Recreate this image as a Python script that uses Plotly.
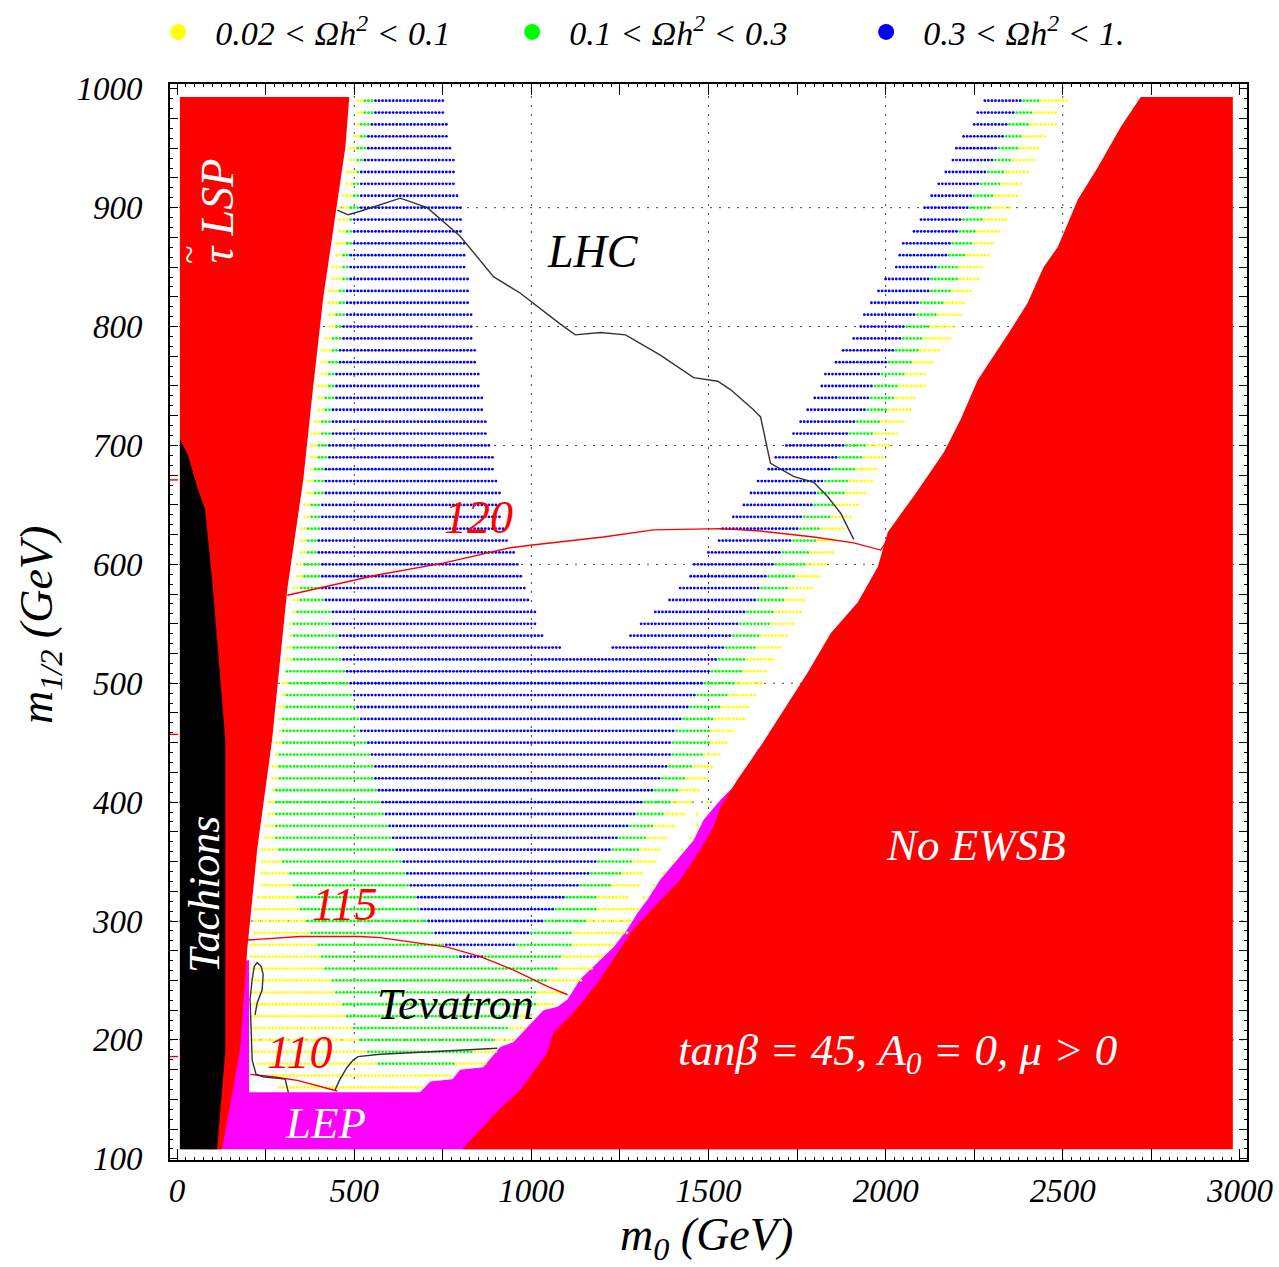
import plotly.graph_objects as go

# ---------------- scan grid rows (m_1/2, GeV) ----------------
ROWS = [990, 980, 970, 960, 950, 940, 930, 920, 910, 900, 890, 880, 870, 860, 850, 840,
        830, 820, 810, 800, 790, 780, 770, 760, 750, 740, 730, 720, 710, 700, 690, 680,
        670, 660, 650, 640, 630, 620, 610, 600, 590, 580, 570, 560, 550, 540, 530, 520,
        510, 500, 490, 480, 470, 460, 450, 440, 430, 420, 410, 400, 390, 380, 370, 360,
        350, 340, 330, 320, 310, 300, 290, 280, 270, 260, 250, 240, 230, 220, 210, 200,
        190, 180, 170, 160]
# left band: yellow from Y0, green from G0, blue from B0 to B1 (None = joins right band)
Y0 = [505, 505, 503, 500, 487, 487, 475, 475, 468, 460, 458, 455, 449, 446, 437, 437,
      427, 427, 427, 427, 418, 409, 404, 404, 394, 394, 394, 385, 380, 378, 373, 373,
      366, 366, 357, 357, 347, 347, 343, 338, 338, 324, 324, 324, 314, 314, 310, 305,
      305, 296, 300, 286, 286, 286, 277, 277, 268, 268, 263, 257, 253, 249, 245, 240,
      234, 234, 234, 225, 220, 211, 211, 201, 206, 201, 201, 201, 201, 201, 201, 206,
      210, 230, 263, 286]
G0 = [525, 525, 517, 517, 508, 508, 503, 497, 494, 489, 484, 478, 475, 470, 465, 461,
      456, 451, 446, 446, 437, 432, 427, 423, 423, 418, 413, 409, 404, 397, 392, 388,
      385, 385, 376, 376, 366, 366, 361, 357, 357, 343, 347, 338, 328, 324, 324, 324,
      310, 314, 305, 305, 300, 300, 291, 286, 286, 286, 277, 277, 277, 277, 277, 281,
      296, 315, 324, 338, 347, 366, 376, 395, 404, 418, 437, 446, 465, 475, 498, 512,
      536, 564, 500, 500]
B0 = [555, 555, 545, 540, 536, 522, 517, 517, 517, 512, 500, 500, 493, 489, 489, 484,
      479, 475, 475, 470, 465, 460, 456, 446, 446, 442, 437, 437, 432, 427, 423, 418,
      418, 418, 409, 404, 404, 395, 395, 404, 404, 404, 418, 437, 437, 456, 456, 465,
      475, 489, 498, 508, 517, 517, 536, 545, 555, 559, 564, 574, 588, 597, 607, 616,
      635, 644, 653, 672, 686, 710, 724, 757, 799, 700, 700, 700, 700, 700, 700, 700,
      700, 700, 500, 500]
B1 = [750, 750, 764, 764, 776, 785, 785, 785, 798, 807, 807, 807, 813, 813, 813, 825,
      826, 826, 835, 835, 835, 845, 845, 854, 854, 863, 863, 873, 873, 883, 892, 896,
      903, 913, 913, 917, 922, 936, 955, 964, 976, 983, 992, 1014, 1014, 1035, 1082, None,
      None, None, None, None, None, None, None, None, None, None, None, None, None, None, None, None,
      None, None, None, None, None, None, None, None, 865, None, None, None, None, None, None, None,
      None, None, None, None]
# right band: blue from RB0 (None = continuous), green from RG0, yellow from RY0 to RY1
RB0 = [2278, 2257, 2248, 2217, 2198, 2184, 2165, 2146, 2125, 2104, 2097, 2075, 2047, 2038, 2028, 1995,
       1977, 1958, 1937, 1925, 1906, 1878, 1856, 1824, 1817, 1798, 1777, 1755, 1737, 1718, 1687, 1666,
       1638, 1617, 1595, 1564, 1537, 1525, 1496, 1459, 1449, 1416, 1388, 1346, 1308, 1275, 1228, None,
       None, None, None, None, None, None, None, None, None, None, None, None, None, None, None, None,
       None, None, None, None, None, None, None, None, 865, None, None, None, None, None, None, None,
       None, None, None, None]
RG0 = [2386, 2367, 2344, 2334, 2316, 2306, 2287, 2268, 2245, 2236, 2212, 2203, 2184, 2174, 2150, 2122,
       2122, 2094, 2085, 2056, 2047, 2028, 2005, 1986, 1967, 1958, 1948, 1915, 1897, 1887, 1864, 1845,
       1826, 1807, 1798, 1765, 1753, 1732, 1708, 1685, 1666, 1647, 1638, 1605, 1586, 1563, 1549, 1525,
       1506, 1487, 1469, 1449, 1426, 1402, 1397, 1393, 1383, 1364, 1346, 1313, 1299, 1275, 1242, 1230,
       1181, 1163, 1133, 1100, 1063, 1035, 997, 955, 865, 700, 700, 700, 700, 700, 700, 700,
       700, 700, 500, 500]
RY0 = [2433, 2414, 2405, 2386, 2377, 2358, 2334, 2325, 2306, 2297, 2273, 2254, 2245, 2226, 2203, 2203,
       2184, 2165, 2146, 2127, 2104, 2099, 2075, 2056, 2033, 2024, 2005, 1986, 1967, 1948, 1934, 1915,
       1897, 1887, 1851, 1845, 1819, 1807, 1784, 1779, 1741, 1727, 1718, 1685, 1675, 1647, 1638, 1605,
       1595, 1577, 1558, 1534, 1515, 1506, 1501, 1487, 1459, 1435, 1416, 1397, 1374, 1346, 1322, 1305,
       1284, 1251, 1228, 1190, 1181, 1153, 1120, 1115, 1087, 1077, 1044, 1011, 1011, 969, 936, 894,
       837, 785, 500, 500]
RY1 = [2513, 2485, 2485, 2455, 2433, 2424, 2405, 2386, 2377, 2358, 2344, 2325, 2306, 2297, 2276, 2267,
       2245, 2226, 2217, 2195, 2184, 2153, 2134, 2116, 2116, 2085, 2075, 2056, 2035, 2014, 1994, 1977,
       1965, 1944, 1925, 1906, 1887, 1854, 1854, 1835, 1812, 1793, 1774, 1765, 1746, 1727, 1706, 1685,
       1664, 1655, 1638, 1615, 1605, 1572, 1553, 1534, 1515, 1496, 1477, 1459, 1435, 1402, 1383, 1364,
       1355, 1315, 1300, 1272, 1303, 1284, 1270, 1233, 1204, 1176, 1148, 1096, 1068, 1007, 988, 950,
       903, 875, 777, 696]
# isolated yellow points near the EWSB edge
ISO_MH = [400, 390, 380, 370, 360, 350, 340, 330, 320]
ISO_M0 = [1496, 1468, 1468, 1449, 1426, 1402, 1373, 1345, 1317]

# ---------------- excluded regions (m0, m1/2) ----------------
STAU_M0 = [8, 486, 475, 432, 412, 380, 356, 311, 268, 226, 198, 178, 127, 8]
STAU_MH = [993, 993, 951, 865, 823, 738, 671, 579, 452, 360, 276, 192, 108, 108]
TACH_M0 = [8, 31, 42, 59, 79, 88, 99, 113, 127, 136, 136, 113, 8]
TACH_MH = [705, 692, 680, 663, 646, 621, 587, 537, 486, 452, 190, 108, 108]
LEP_M0 = [65, 155, 203, 203, 686, 715, 777, 799, 864, 912, 949, 989, 1034, 1074, 1102, 1138,
          1187, 1232, 1271, 1300, 1328, 1364, 1413, 1458, 1486, 1534, 1571, 1610, 1639, 1661,
          1760, 1760]
LEP_MH = [108, 267, 267, 156, 156, 165, 167, 175, 177, 194, 198, 211, 225, 228, 234, 251,
          265, 278, 293, 307, 318, 335, 352, 368, 385, 402, 413, 430, 444, 452, 452, 108]
EWSB_M0 = [805, 907, 969, 1045, 1062, 1119, 1187, 1251, 1288, 1356, 1421, 1477, 1514, 1534,
           1582, 1647, 1732, 1780, 1845, 1921, 1978, 2006, 2071, 2079, 2164, 2212, 2260, 2353,
           2401, 2446, 2486, 2543, 2599, 2664, 2720, 2980, 2980]
EWSB_MH = [108, 141, 158, 189, 206, 223, 248, 276, 293, 315, 335, 360, 379, 396, 419, 447,
           486, 509, 542, 568, 598, 627, 654, 657, 694, 722, 755, 797, 820, 850, 867, 907,
           934, 968, 993, 993, 108]

# ---------------- contours ----------------
C120_M0 = [311, 565, 751, 941, 997, 1203, 1345, 1534, 1647, 1797, 1910, 1986, 2000]
C120_MH = [574, 591, 601, 614, 616, 623, 629, 630, 628, 623, 618, 612, 618]
C115_M0 = [198, 347, 517, 573, 667, 763, 856, 949, 1045, 1102]
C115_MH = [284, 287, 287, 286, 282, 278, 270, 259, 245, 238]
C110_M0 = [206, 271, 339, 452]
C110_MH = [171, 169, 166, 157]
# short fragments of the Higgs-mass contours at the left edge (m0 < 0)
EDGE_MH = [671, 457, 186]
LHC_M0 = [452, 483, 517, 630, 706, 799, 893, 969, 1082, 1124, 1195, 1266, 1364, 1458, 1526,
          1562, 1627, 1647, 1675, 1740, 1797, 1836, 1873, 1910]
LHC_MH = [898, 894, 897, 908, 900, 876, 842, 828, 802, 793, 795, 793, 776, 757, 754, 747,
          730, 724, 685, 674, 669, 657, 643, 621]
TEV1_M0 = [314, 305, 243, 223, 212, 209, 206, 212, 218, 226, 237, 243, 240, 226, 220]
TEV1_MH = [156, 167, 169, 171, 183, 209, 234, 251, 262, 265, 262, 255, 242, 231, 221]
TEV2_M0 = [446, 460, 480, 497, 511, 573, 715, 856, 904]
TEV2_MH = [158, 167, 177, 183, 186, 188, 190, 192, 193]

NB = "\u00a0"
LEGEND_TEXT = [NB * 2 + "0.02 < Ωh<sup>2</sup> < 0.1", NB * 2 + "0.1 < Ωh<sup>2</sup> < 0.3",
               NB * 2 + "0.3 < Ωh<sup>2</sup> < 1."]
COLORS = ["#FFFF00", "#00FF00", "#0000FF"]
X_TICKS = [0, 250, 500, 750, 1000, 1250, 1500, 1750, 2000, 2250, 2500, 2750, 3000]
X_LABELS = ["0", "", "500", "", "1000", "", "1500", "", "2000", "", "2500", "", "3000"]
Y_TICKS = [100 + 25 * k for k in range(37)]
Y_LABELS = [str(v) if v % 100 == 0 else "" for v in Y_TICKS]

SERIF = "Liberation Serif"

# ---------------- classify grid points ----------------
pts = {0: ([], []), 1: ([], []), 2: ([], [])}
GRID_M0 = list(range(0, 3010, 10))
for i, mh in enumerate(ROWS):
    y0, g0, b0, b1, rb0, rg0, ry0, ry1 = Y0[i], G0[i], B0[i], B1[i], RB0[i], RG0[i], RY0[i], RY1[i]
    for m in GRID_M0:
        if m < y0 or m > ry1:
            continue
        if b1 is not None and b1 < m < rb0:
            continue
        if m < g0 or m >= ry0:
            c = 0
        elif m < b0 or m >= rg0:
            c = 1
        else:
            c = 2
        pts[c][0].append(m)
        pts[c][1].append(mh)
for m, mh in zip(ISO_M0, ISO_MH):
    pts[0][0].append(m)
    pts[0][1].append(mh)

fig = go.Figure()


def region(xs, ys, color):
    fig.add_trace(go.Scatter(x=xs, y=ys, fill="toself", fillcolor=color, mode="lines",
                             line=dict(width=0, color=color), showlegend=False, hoverinfo="skip"))


region(LEP_M0, LEP_MH, "#FF00FF")
region(EWSB_M0, EWSB_MH, "#FF0000")
region(STAU_M0, STAU_MH, "#FF0000")
region(TACH_M0, TACH_MH, "#000000")

for c in range(3):
    fig.add_trace(go.Scatter(x=pts[c][0], y=pts[c][1], mode="markers",
                             marker=dict(size=2.8, color=COLORS[c], line=dict(width=0)),
                             showlegend=False, hoverinfo="skip"))

for xs, ys, col in [(C120_M0, C120_MH, "#FF0000"), (C115_M0, C115_MH, "#FF0000"),
                    (C110_M0, C110_MH, "#FF0000"), (LHC_M0, LHC_MH, "#333333"),
                    (TEV1_M0, TEV1_MH, "#333333"), (TEV2_M0, TEV2_MH, "#333333")]:
    fig.add_trace(go.Scatter(x=xs, y=ys, mode="lines", line=dict(color=col, width=1.4),
                             showlegend=False, hoverinfo="skip"))
for mh in EDGE_MH:
    fig.add_trace(go.Scatter(x=[-20, 3], y=[mh, mh], mode="lines",
                             line=dict(color="#FF0000", width=1.4),
                             showlegend=False, hoverinfo="skip"))

for c in range(3):
    fig.add_trace(go.Scatter(x=[None], y=[None], mode="markers", name=LEGEND_TEXT[c],
                             marker=dict(size=16, color=COLORS[c]), showlegend=True))

# dotted grid
shapes = []
for gx in [500, 1000, 1500, 2000, 2500]:
    shapes.append(dict(type="line", xref="x", yref="paper", x0=gx, x1=gx, y0=0, y1=1,
                       layer="below", line=dict(color="#444444", width=1, dash="2px,7px")))
for gy in [200, 300, 400, 500, 600, 700, 800, 900]:
    shapes.append(dict(type="line", xref="paper", yref="y", x0=0, x1=1, y0=gy, y1=gy,
                       layer="below", line=dict(color="#444444", width=1, dash="2px,7px")))

ann = []


def label(x, y, text, color, size=45, angle=0):
    ann.append(dict(x=x, y=y, xref="x", yref="y", text=text, showarrow=False,
                    font=dict(family=SERIF, size=size, color=color, style="italic"),
                    textangle=angle, xanchor="center", yanchor="middle"))


label(1175, 863, "LHC", "black", 46)
label(850, 639, "120", "#FF0000", 46)
label(475, 314, "115", "#FF0000", 46)
label(347, 189, "110", "#FF0000", 46)
label(785, 230, "Tevatron", "black", 45)
label(418, 130, "LEP", "white", 45)
label(2254, 364, "No EWSB", "white", 45)
label(2034, 189, "tanβ = 45, A<sub>0</sub> = 0, μ > 0", "white", 45)
label(79, 322, "Tachions", "white", 44, -90)
label(113, 897, "τ LSP", "white", 46, -90)
label(31, 860, "~", "white", 34, -90)

# plot area in page pixels: left 170, top 84, width 1077, height 1076
PW, PH = 1077, 1076
ann.append(dict(x=(706 - 170) / PW, y=(1160 - 1238) / PH, xref="paper", yref="paper",
                text="m<sub>0</sub> (GeV)", showarrow=False, xanchor="center", yanchor="middle",
                font=dict(family=SERIF, size=46, color="black", style="italic")))
ann.append(dict(x=(40 - 170) / PW, y=(1160 - 625) / PH, xref="paper", yref="paper",
                text="m<sub>1/2</sub> (GeV)", showarrow=False, xanchor="center", yanchor="middle",
                textangle=-90, font=dict(family=SERIF, size=46, color="black", style="italic")))

axis_common = dict(showline=True, linewidth=2, linecolor="black", mirror="allticks",
                   ticks="inside", tickcolor="black", tickwidth=1.3, showgrid=False,
                   zeroline=False, tickmode="array",
                   tickfont=dict(family=SERIF, size=33, color="black", style="italic"))

fig.update_layout(
    width=1279, height=1267,
    margin=dict(l=170, r=32, t=84, b=107, autoexpand=False),
    plot_bgcolor="white", paper_bgcolor="white",
    xaxis=dict(range=[-20, 3020], tickvals=X_TICKS, ticktext=X_LABELS, ticklen=11,
               ticklabelstandoff=0,
               minor=dict(dtick=25, tick0=0, ticks="inside", ticklen=3, tickcolor="black"),
               **axis_common),
    yaxis=dict(range=[99, 1004], tickvals=Y_TICKS, ticktext=Y_LABELS, ticklen=8,
               ticklabelstandoff=19,
               minor=dict(dtick=25 / 3, tick0=100, ticks="inside", ticklen=3, tickcolor="black"),
               **axis_common),
    shapes=shapes, annotations=ann,
    legend=dict(orientation="h", x=-0.011, xanchor="left", y=1.048, yanchor="middle",
                font=dict(family=SERIF, size=34, color="black", style="italic"),
                entrywidth=309, entrywidthmode="pixels", bgcolor="rgba(0,0,0,0)",
                itemsizing="trace"),
)

fig.write_html("out.html", config={"displayModeBar": False},
               post_script="document.body.style.margin='0';")
